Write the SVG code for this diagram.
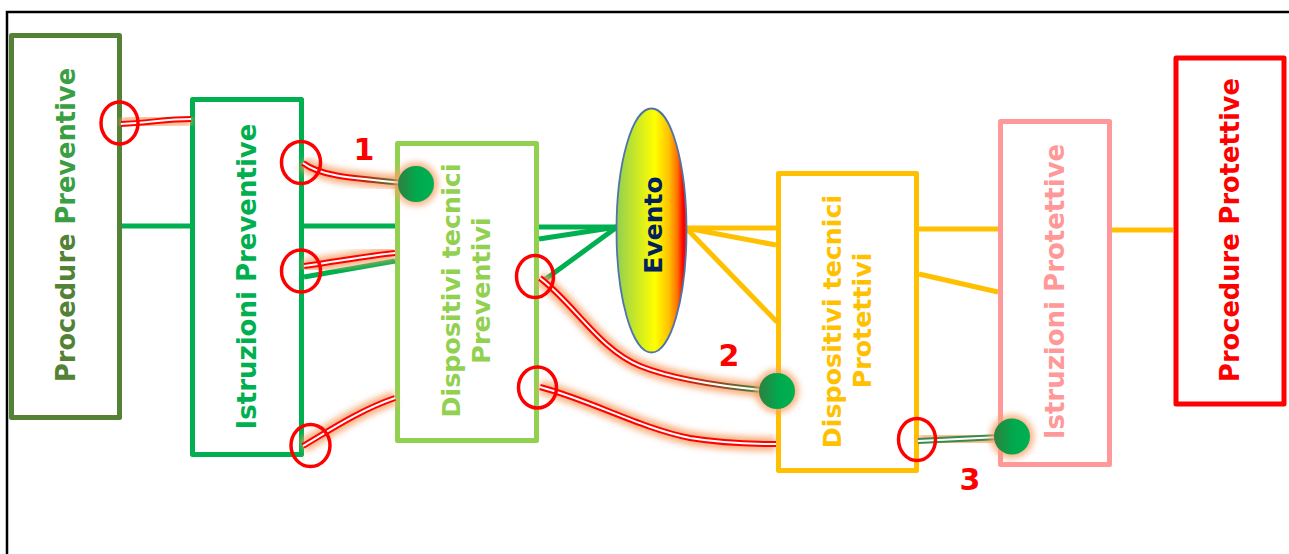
<svg xmlns="http://www.w3.org/2000/svg" width="1289" height="554" viewBox="0 0 1289 554">
<style>
.box{fill:#fff;stroke-width:5;stroke-linejoin:round}
.t{font-family:"DejaVu Sans",Verdana,sans-serif;font-weight:bold;text-anchor:middle}
.g{stroke:#00B050;stroke-width:5;fill:none}
.y{stroke:#FFC000;stroke-width:5;fill:none}
.glow{stroke:#F7A26A;stroke-width:14;fill:none;opacity:.85;filter:url(#blur)}
.dbl{stroke-width:6;fill:none}
.in{stroke:#fff;stroke-width:2;fill:none}
.ring{fill:none;stroke:#FF0000;stroke-width:3.5}
.num{font-family:"DejaVu Sans",Verdana,sans-serif;font-weight:bold;font-size:30px;fill:#FF0000;text-anchor:middle}
</style>
<defs>
<filter id="blur" x="-30%" y="-30%" width="160%" height="160%"><feGaussianBlur stdDeviation="3"/></filter>
<linearGradient id="ev" x1="0" y1="0" x2="1" y2="0">
<stop offset="0" stop-color="#92D050"/>
<stop offset="0.55" stop-color="#FFFF00"/>
<stop offset="0.75" stop-color="#FFC000"/>
<stop offset="0.87" stop-color="#FF7000"/>
<stop offset="0.95" stop-color="#FF0000"/>
</linearGradient>
<linearGradient id="dot" x1="0" y1="0" x2="1" y2="0">
<stop offset="0" stop-color="#2E8040"/>
<stop offset="0.55" stop-color="#00AA4E"/>
<stop offset="1" stop-color="#00B050"/>
</linearGradient>
<linearGradient id="rg2" gradientUnits="userSpaceOnUse" x1="303" y1="0" x2="405" y2="0">
<stop offset="0.45" stop-color="#FF0000"/>
<stop offset="1" stop-color="#2E8B3E"/>
</linearGradient>
<linearGradient id="rg5" gradientUnits="userSpaceOnUse" x1="540" y1="0" x2="762" y2="0">
<stop offset="0.6" stop-color="#FF0000"/>
<stop offset="1" stop-color="#2E8B3E"/>
</linearGradient>
</defs>
<g id="frame" stroke="#000" stroke-width="2.5" fill="none"><path d="M7,554 V12 H1289"/></g>

<g id="procedure-preventive">
<rect class="box" x="11.5" y="35.5" width="108" height="382" stroke="#538135"/>
<text class="t" font-size="25.7" transform="translate(75,225) rotate(-90)"><tspan fill="#538135">Procedure </tspan><tspan fill="#3A9E42">Preventive</tspan></text>
</g>
<g id="istruzioni-preventive">
<rect class="box" x="192.5" y="99.5" width="109" height="355" stroke="#00B050"/>
<text class="t" font-size="26" fill="#00B050" transform="translate(256,276.5) rotate(-90)">Istruzioni Preventive</text>
</g>
<g id="dispositivi-preventivi">
<rect class="box" x="397.5" y="143.5" width="139" height="297" stroke="#92D050"/>
<text class="t" font-size="25.4" fill="#92D050" transform="translate(460,290.5) rotate(-90)">Dispositivi tecnici</text>
<text class="t" font-size="25.4" fill="#92D050" transform="translate(490,290.5) rotate(-90)">Preventivi</text>
</g>
<g id="dispositivi-protettivi">
<rect class="box" x="778.5" y="173.5" width="138" height="297" stroke="#FFC000"/>
<text class="t" font-size="25.3" fill="#FFC000" transform="translate(841,321.5) rotate(-90)">Dispositivi tecnici</text>
<text class="t" font-size="25.3" fill="#FFC000" transform="translate(871,320.5) rotate(-90)">Protettivi</text>
</g>
<g id="istruzioni-protettive">
<rect class="box" x="1000.5" y="121.5" width="109" height="343" stroke="#FF9999"/>
<text class="t" font-size="26" fill="#FF9999" transform="translate(1064,291.5) rotate(-90)">Istruzioni Protettive</text>
</g>
<g id="procedure-protettive">
<rect class="box" x="1176" y="58" width="108" height="346" stroke="#FF0000"/>
<text class="t" font-size="25.7" fill="#FF0000" transform="translate(1239,230) rotate(-90)">Procedure Protettive</text>
</g>

<g id="connectors">
<path class="g" d="M122,226 H190"/>
<path class="g" d="M304,226 H395"/>
<path class="g" d="M304,277 L395,261"/>
<path class="g" d="M539,227 H617"/>
<path class="g" d="M539,239 L617,227"/>
<path class="g" d="M543,281 L617,227"/>
<path class="y" d="M686,228 H776"/>
<path class="y" d="M686,228 L776,245"/>
<path class="y" d="M686,228 L777,322"/>
<path class="y" d="M919,229 H998"/>
<path class="y" d="M919,274 L998,292"/>
<path class="y" d="M1112,230 H1173"/>
<g id="links">
<path class="glow" d="M121,124 C150,123 165,119 191,119"/>
<path class="glow" d="M303,163 C320,176 350,178 405,183"/>
<path class="glow" d="M304,266 C335,262 365,256 395,253"/>
<path class="glow" d="M303,446 C330,430 360,410 395,398"/>
<path class="glow" d="M540,278 C575,305 600,350 640,366 C675,380 720,386 762,390"/>
<path class="glow" d="M540,387 C590,400 640,428 690,438 C720,443 750,444 776,444"/>
<path class="glow" d="M918,441 L1000,437"/>
<path class="dbl" stroke="#FF0000" d="M121,124 C150,123 165,119 191,119"/>
<path class="dbl" stroke="url(#rg2)" d="M303,163 C320,176 350,178 405,183"/>
<path class="dbl" stroke="#FF0000" d="M304,266 C335,262 365,256 395,253"/>
<path class="dbl" stroke="#FF0000" d="M303,446 C330,430 360,410 395,398"/>
<path class="dbl" stroke="url(#rg5)" d="M540,278 C575,305 600,350 640,366 C675,380 720,386 762,390"/>
<path class="dbl" stroke="#FF0000" d="M540,387 C590,400 640,428 690,438 C720,443 750,444 776,444"/>
<path class="dbl" stroke="#3A8A4A" d="M918,441 L1000,437"/>
<path class="in" d="M121,124 C150,123 165,119 191,119"/>
<path class="in" d="M303,163 C320,176 350,178 405,183"/>
<path class="in" d="M304,266 C335,262 365,256 395,253"/>
<path class="in" d="M303,446 C330,430 360,410 395,398"/>
<path class="in" d="M540,278 C575,305 600,350 640,366 C675,380 720,386 762,390"/>
<path class="in" d="M540,387 C590,400 640,428 690,438 C720,443 750,444 776,444"/>
<path class="in" d="M918,441 L1000,437"/>
</g>
<g id="rings">
<ellipse class="ring" cx="119.5" cy="123" rx="18.5" ry="21"/>
<ellipse class="ring" cx="301" cy="162.5" rx="19.5" ry="21"/>
<ellipse class="ring" cx="301" cy="271" rx="19.5" ry="21"/>
<ellipse class="ring" cx="310.5" cy="445.5" rx="19.5" ry="21"/>
<ellipse class="ring" cx="535" cy="276.5" rx="18.5" ry="21"/>
<ellipse class="ring" cx="537.5" cy="387.5" rx="19" ry="20.5"/>
<ellipse class="ring" cx="917" cy="439.5" rx="18.5" ry="21"/>
</g>
<g id="dots">
<circle cx="416" cy="184" r="22" fill="#F7A26A" opacity=".8" filter="url(#blur)"/>
<circle cx="777" cy="391" r="22" fill="#F7A26A" opacity=".8" filter="url(#blur)"/>
<circle cx="1012" cy="436.5" r="22" fill="#F7A26A" opacity=".8" filter="url(#blur)"/>
<circle cx="416" cy="184" r="18" fill="url(#dot)"/>
<circle cx="777" cy="391" r="18" fill="url(#dot)"/>
<circle cx="1012" cy="436.5" r="18" fill="url(#dot)"/>
</g>
</g>

<g id="evento">
<ellipse cx="651.5" cy="230.5" rx="35" ry="122" fill="url(#ev)" stroke="#4F75A8" stroke-width="1.8"/>
<text class="t" font-size="25" fill="#002060" transform="translate(662,225) rotate(-90)">Evento</text>
</g>

<g id="labels">
<text class="num" x="364" y="160">1</text>
<text class="num" x="729" y="366">2</text>
<text class="num" x="970" y="490">3</text>
</g>
</svg>
